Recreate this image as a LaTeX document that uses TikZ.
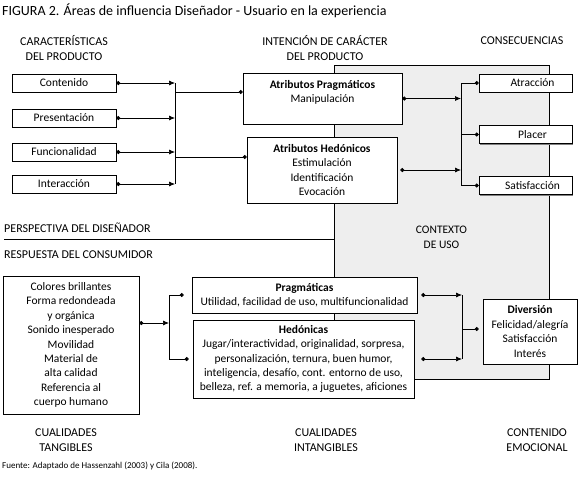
\documentclass[tikz,border=0pt]{standalone}
\usepackage{fontspec}
\setmainfont{Carlito}
\usetikzlibrary{arrows.meta,shadows}
\definecolor{ctxgray}{RGB}{238,238,238}
\begin{document}
\begin{tikzpicture}[x=1pt,y=-1pt,
  box/.style={draw=black, line width=0.7pt, fill=white, inner sep=0pt, align=center,
    font=\fontsize{11.5}{14.4}\selectfont,
    drop shadow={shadow xshift=1pt, shadow yshift=-1pt, fill=black!50, opacity=1}},
  hdr/.style={align=center, inner sep=0pt, font=\fontsize{12}{14.5}\selectfont},
  conn/.style={line width=0.7pt, {Circle[length=4pt]}-{Latex[length=6pt,width=5pt]}},
  dotline/.style={line width=0.7pt, -{Circle[length=4pt]}},
  plain/.style={line width=0.7pt}]
\useasboundingbox[fill=white] (0,0) rectangle (579,499);

% context area
\draw[plain, fill=ctxgray] (334,65) rectangle (549,379);
\node[hdr, font=\fontsize{11.5}{14.5}\selectfont] (ctxlbl) at (441.5,237.5) {CONTEXTO\\DE USO};

% title and source
\node[anchor=west, inner sep=0pt, font=\fontsize{14}{16}\selectfont] (title) at (2,11)
  {FIGURA 2. Áreas de influencia Diseñador - Usuario en la experiencia};
\node[anchor=west, inner sep=0pt, font=\fontsize{9}{11}\selectfont] (src) at (2,466)
  {Fuente: Adaptado de Hassenzahl (2003) y Cila (2008).};

% headers
\node[hdr] (h1) at (64,48) {CARACTERÍSTICAS\\DEL PRODUCTO};
\node[hdr] (h2) at (325,48) {INTENCIÓN DE CARÁCTER\\DEL PRODUCTO};
\node[hdr] (h3) at (522,41) {CONSECUENCIAS};
\node[hdr] (f1) at (66,440) {CUALIDADES\\TANGIBLES};
\node[hdr] (f2) at (326,440) {CUALIDADES\\INTANGIBLES};
\node[hdr] (f3) at (537,440) {CONTENIDO\\EMOCIONAL};

% divider
\draw[plain] (4,239) -- (334,239);
\node[hdr, anchor=west] (persp) at (4,228) {PERSPECTIVA DEL DISEÑADOR};
\node[hdr, anchor=west] (resp) at (4,255) {RESPUESTA DEL CONSUMIDOR};

% left boxes
\node[box, minimum width=104pt, minimum height=18pt] (cont) at (64,83) {Contenido};
\node[box, minimum width=104pt, minimum height=18pt] (pres) at (64,118) {Presentación};
\node[box, minimum width=104pt, minimum height=18pt] (func) at (64,152) {Funcionalidad};
\node[box, minimum width=104pt, minimum height=18pt] (inter) at (64,184) {Interacción};

% middle upper boxes
\node[box, minimum width=159pt, minimum height=51pt] (ap) at (322.5,98.5)
  {\textbf{Atributos Pragmáticos}\\Manipulación\\\mbox{}};
\node[box, minimum width=150pt, minimum height=66pt] (ah) at (322,170)
  {\textbf{Atributos Hedónicos}\\Estimulación\\Identificación\\Evocación};

% right upper boxes
\node[box, minimum width=93pt, minimum height=18pt] (atr) at (525.5,83) {\hspace*{14pt}Atracción};
\node[box, minimum width=93pt, minimum height=18pt] (pla) at (525.5,134.5) {\hspace*{14pt}Placer};
\node[box, minimum width=93pt, minimum height=18pt] (sat) at (525.5,185.5) {\hspace*{14pt}Satisfacción};

% bottom boxes
\node[box, minimum width=136pt, minimum height=138pt] (tang) at (71,345)
  {Colores brillantes\\Forma redondeada\\y orgánica\\Sonido inesperado\\Movilidad\\Material de\\alta calidad\\Referencia al\\cuerpo humano};
\node[box, minimum width=225pt, minimum height=36pt] (prag) at (304.5,295)
  {\textbf{Pragmáticas}\\Utilidad, facilidad de uso, multifuncionalidad};
\node[box, minimum width=221pt, minimum height=78pt] (hed) at (303.5,359)
  {\textbf{Hedónicas}\\Jugar/interactividad, originalidad, sorpresa,\\personalización, ternura, buen humor,\\inteligencia, desafío, cont. entorno de uso,\\belleza, ref. a memoria, a juguetes, aficiones};
\node[box, minimum width=94pt, minimum height=65pt] (div) at (530,331.5)
  {\textbf{Diversión}\\Felicidad/alegría\\Satisfacción\\Interés};

% upper-left connectors
\coordinate (jl) at (175,0);
\draw[conn] (cont.east) -- (cont.east -| jl);
\draw[conn] (pres.east) -- (pres.east -| jl);
\draw[conn] (func.east) -- (func.east -| jl);
\draw[conn] (inter.east) -- (inter.east -| jl);
\draw[plain] (jl |- cont) -- (jl |- inter);
\coordinate (jA) at (175,92);
\coordinate (jH) at (175,157);
\draw[dotline] (jA) -- (ap.west |- jA);
\draw[dotline] (jH) -- (ah.west |- jH);

% upper-right connectors
\coordinate (jr) at (461,0);
\draw[conn] (ap.east) -- (ap.east -| jr);
\draw[conn, shorten <=3pt] (ah.east) -- (ah.east -| jr);
\draw[plain] (jr |- atr) -- (jr |- sat);
\draw[dotline] (jr |- atr) -- (atr.west);
\draw[dotline] (jr |- pla) -- (pla.west);
\draw[dotline] (jr |- sat) -- (sat.west);

% bottom-left connectors
\coordinate (jb) at (169,323);
\draw[conn] (tang.east |- jb) -- (jb);
\draw[plain] (jb |- prag) -- (jb |- hed);
\draw[dotline, shorten >=8pt] (jb |- prag) -- (prag.west);
\draw[dotline, shorten >=4pt] (jb |- hed) -- (hed.west);

% bottom-right connectors
\coordinate (jd) at (462,329);
\draw[conn, shorten <=4pt] (prag.east) -- (prag.east -| jd);
\draw[conn, shorten <=7pt] (hed.east) -- (hed.east -| jd);
\draw[plain] (jd |- prag) -- (jd |- hed);
\draw[dotline, shorten >=4pt] (jd) -- (div.west |- jd);
\end{tikzpicture}
\end{document}
